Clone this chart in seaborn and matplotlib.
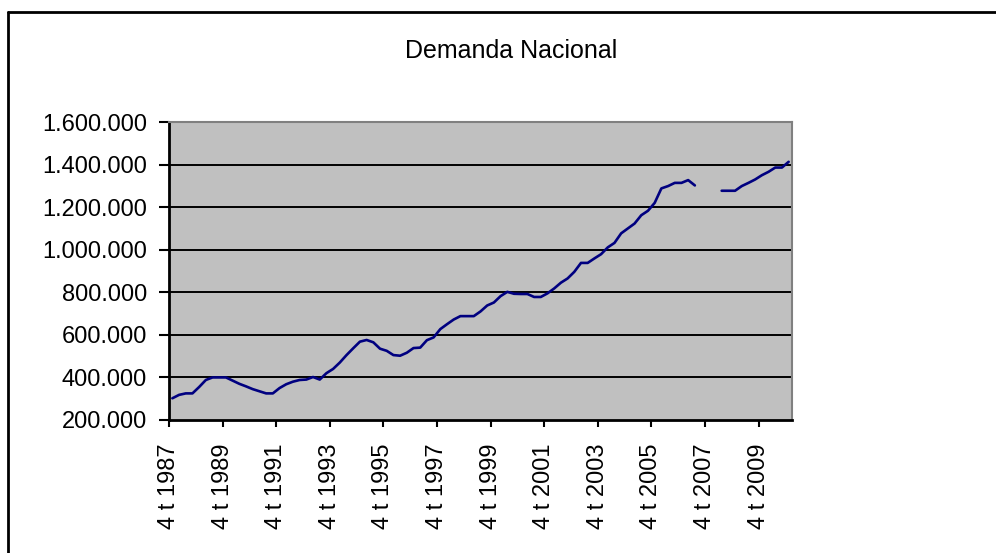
import numpy as np
import pandas as pd
import seaborn as sns
import matplotlib.pyplot as plt
from matplotlib.lines import Line2D
from matplotlib.ticker import FuncFormatter, FixedLocator

# Demanda nacional, trimestral desde 4 t 1987 (miles)
primer_anio = 1987
valores = [
    302, 318, 325, 325, 355, 388, 400, 400, 400, 385,
    370, 358, 345, 335, 325, 325, 350, 368, 380, 388,
    390, 402, 390, 420, 440, 470, 505, 537, 568, 576,
    565, 535, 525, 505, 502, 516, 538, 540, 575, 588,
    627, 650, 672, 688, 688, 688, 710, 738, 752, 782,
    802, 793, 792, 792, 778, 778, 795, 818, 845, 865,
    896, 938, 938, 959, 979, 1011, 1032, 1077, 1100, 1123,
    1162, 1183, 1220, 1288, 1299, 1314, 1314, 1327, 1302, np.nan,
    np.nan, np.nan, 1277, 1277, 1277, 1299, 1314, 1330, 1350, 1366,
    1386, 1386, 1413,
]
y_ticks = [200000, 400000, 600000, 800000, 1000000, 1200000, 1400000, 1600000]

# etiquetas de trimestre "4 t 1987", "1 t 1988", ...
etiquetas = []
for i in range(len(valores)):
    q = (4 + i - 1) % 4 + 1
    anio = primer_anio + (3 + i) // 4
    etiquetas.append(f"{q} t {anio}")

df = pd.DataFrame({
    "pos": np.arange(len(valores)) + 0.5,
    "demanda": np.array(valores, dtype=float) * 1000,
})
# tramos separados por los huecos
df["tramo"] = df["demanda"].isna().cumsum()
df = df.dropna()

sns.set_style("white")
plt.rcParams["font.family"] = ["Liberation Sans", "DejaVu Sans"]
plt.rcParams["text.color"] = "black"
plt.rcParams["xtick.color"] = "black"
plt.rcParams["ytick.color"] = "black"

fig = plt.figure(figsize=(9.96, 5.53), dpi=100)
ax = fig.add_axes([169 / 996, 1 - 420 / 553, 623 / 996, 298 / 553])
ax.set_facecolor("#c0c0c0")

sns.lineplot(data=df, x="pos", y="demanda", units="tramo", estimator=None,
             color="#000080", linewidth=1.9, ax=ax)

ax.set_xlim(0, len(valores))
ax.set_ylim(200000, 1600000)
ax.yaxis.set_major_locator(FixedLocator(y_ticks))
ax.yaxis.set_major_formatter(FuncFormatter(lambda v, p: f"{v:,.0f}".replace(",", ".")))
for v in y_ticks[1:-1]:
    ax.axhline(v, color="black", linewidth=1.4, zorder=1)

xt = list(range(0, len(valores) - 1, 8))
ax.set_xticks(xt)
ax.set_xticklabels([etiquetas[i] for i in xt], rotation=90)

ax.tick_params(axis="y", direction="out", length=7, width=1.5, pad=9,
               labelsize=17, left=True, colors="black")
ax.tick_params(axis="x", direction="out", length=5, width=1.5, pad=12,
               labelsize=17, bottom=True, colors="black")
ax.set_xlabel("")
ax.set_ylabel("")

for s in ["left", "bottom"]:
    ax.spines[s].set_color("black")
    ax.spines[s].set_linewidth(2)
for s in ["top", "right"]:
    ax.spines[s].set_color("#808080")
    ax.spines[s].set_linewidth(1.5)

fig.text(511 / 996, 1 - 58 / 553, "Demanda Nacional", ha="center",
         va="baseline", fontsize=18, color="black")

# marco del area del grafico (recortado a la derecha y abajo)
fig.add_artist(Line2D([8 / 996, 1.0], [1 - 12 / 553, 1 - 12 / 553],
                      color="black", linewidth=2, transform=fig.transFigure))
fig.add_artist(Line2D([8 / 996, 8 / 996], [0.0, 1 - 12 / 553],
                      color="black", linewidth=2, transform=fig.transFigure))

fig.savefig("out.png", dpi=100)
